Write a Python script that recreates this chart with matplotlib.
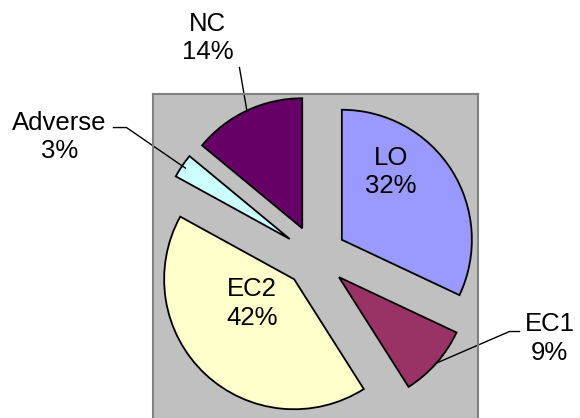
import numpy as np
import matplotlib.pyplot as plt

plt.rcParams['font.family'] = ['Liberation Sans', 'DejaVu Sans']

# data
labels = ['LO', 'EC1', 'EC2', 'Adverse', 'NC']
shares = [32, 9, 42, 3, 14]
colors = ['#9999FF', '#993366', '#FFFFCC', '#CCFFFF', '#660066']
explode = [0.24] * 5

fig = plt.figure(figsize=(5.8, 4.18), dpi=100)
ax = fig.add_axes([153 / 580, -1 / 418, 325 / 580, 325 / 418])

wedges, _ = ax.pie(shares, colors=colors, startangle=90, counterclock=False,
                   explode=explode, radius=1,
                   wedgeprops=dict(edgecolor='black', linewidth=1.3))

ax.set_frame_on(True)
ax.set_facecolor('#C0C0C0')
for s in ax.spines.values():
    s.set_color('#808080')
    s.set_linewidth(1.5)
ax.set_xlim(-1.25, 1.25)
ax.set_ylim(-1.25, 1.25)
ax.set_xticks([])
ax.set_yticks([])


def arc_mid(w, r=1.0):
    ang = np.deg2rad((w.theta1 + w.theta2) / 2)
    cx, cy = w.center
    return cx + r * np.cos(ang), cy + r * np.sin(ang)


txt = dict(fontsize=18.5, ha='center', va='center', linespacing=1.25)
lab = [f'{n}\n{v}%' for n, v in zip(labels, shares)]

# inside labels
ax.text(0.58, 0.65, lab[0], **txt)
ax.text(-0.49, -0.36, lab[2], **txt)

# outside labels with leader lines
ax.text(-0.83, 1.68, lab[4], clip_on=False, **txt)
ax.text(-1.97, 0.92, lab[3], clip_on=False, **txt)
ax.text(1.80, -0.63, lab[1], clip_on=False, **txt)

x0, y0 = arc_mid(wedges[4])
ax.plot([x0, -0.585], [y0, 1.454], color='black', lw=1, clip_on=False)
x0, y0 = arc_mid(wedges[3], 0.97)
ax.plot([x0, -1.454, -1.554], [y0, 0.992, 0.992], color='black', lw=1, clip_on=False)
x0, y0 = arc_mid(wedges[1])
ax.plot([x0, 1.492, 1.569], [y0, -0.577, -0.577], color='black', lw=1, clip_on=False)

plt.savefig('out.png', dpi=100)
